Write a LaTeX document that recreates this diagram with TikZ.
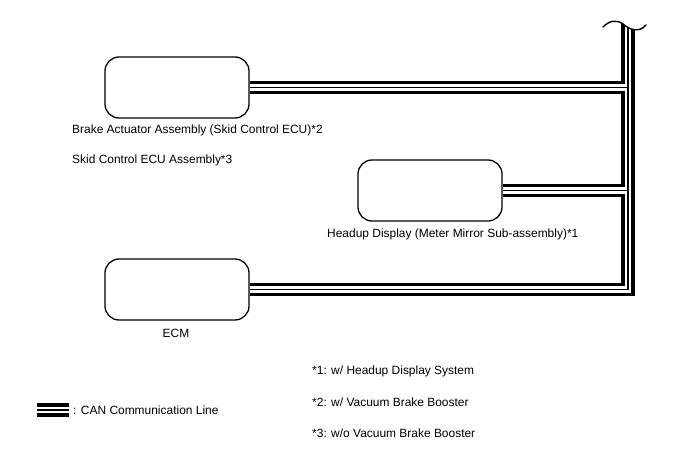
\documentclass[tikz,border=0pt]{standalone}
\usepackage{fontspec}
\setmainfont{Liberation Sans}
\begin{document}
\begin{tikzpicture}[x=1bp,y=-1bp,
  ecubox/.style={draw=black, line width=1.3bp, rounded corners=14bp, fill=white,
    minimum width=144bp, minimum height=61bp, inner sep=0pt},
  lbl/.style={font=\fontsize{12}{14}\selectfont, inner sep=0pt, text=black},
  canouter/.style={draw=black, line width=13.5bp, line cap=butt, line join=miter},
  cangap/.style={draw=white, line width=6.5bp, line cap=butt, line join=miter},
  cancore/.style={draw=black, line width=1.1bp, line cap=butt, line join=miter}]
\useasboundingbox[fill=white] (0,0) rectangle (688,463);

% ECU boxes
\node[ecubox] (brake) at (177,87.5) {};
\node[ecubox] (hud) at (430,190.5) {};
\node[ecubox] (ecm) at (177,289.5) {};

% labels
\node[lbl, anchor=west] (lbrake) at (72,130) {Brake Actuator Assembly (Skid Control ECU)*2};
\node[lbl, anchor=west] (lskid) at (72,160) {Skid Control ECU Assembly*3};
\node[lbl, anchor=west] (lhud) at (327,234) {Headup Display (Meter Mirror Sub-assembly)*1};
\node[lbl] (lecm) at (176,333) {ECM};
\node[lbl, anchor=west] (n1) at (312,371) {*1: w/ Headup Display System};
\node[lbl, anchor=west] (n2) at (312,402) {*2: w/ Vacuum Brake Booster};
\node[lbl, anchor=west] (n3) at (312,433) {*3: w/o Vacuum Brake Booster};
\node[lbl, anchor=west] (lleg) at (73,410) {: CAN Communication Line};

% route points
\coordinate (top) at (628,18);
\coordinate (jb) at (brake.east -| top);
\coordinate (jh) at (hud.east -| top);
\coordinate (corner) at (ecm.east -| top);
\coordinate (lgA) at (37,410);
\coordinate (lgB) at (69,410);

\newcommand{\canroutes}[1]{%
  \draw[#1] (brake.east) -- (jb);
  \draw[#1] (hud.east) -- (jh);
  \draw[#1] (top) -- (corner) -- (ecm.east);
  \draw[#1] (lgA) -- (lgB);
}
\canroutes{canouter}
\canroutes{cangap}
\canroutes{cancore}

% break symbol at the top of the trunk
\fill[white] (603,27) .. controls (609,21) and (616,19) .. (623,24)
  .. controls (630,30) and (639,33) .. (646,25) -- (646,5) -- (603,5) -- cycle;
\draw[line width=1.4bp, line cap=round] (603,27) .. controls (609,21) and (616,19) .. (623,24)
  .. controls (630,30) and (639,33) .. (646,25);
\end{tikzpicture}
\end{document}
